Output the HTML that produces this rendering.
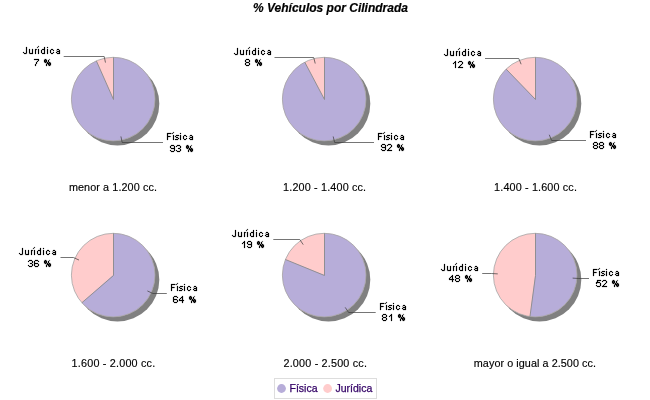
<!DOCTYPE html>
<html><head><meta charset="utf-8"><title>% Vehículos por Cilindrada</title><style>
html,body{margin:0;padding:0;background:#fff;}
body{width:650px;height:400px;overflow:hidden;position:relative;font-family:"Liberation Sans",sans-serif;}
svg{position:absolute;left:0;top:0;}
text{font-family:"Liberation Sans",sans-serif;fill:#000;}
.bm{fill:#000;stroke:#000;stroke-width:0.18px;stroke-linejoin:miter;}
.txt{opacity:0.999;}
.cat{font-size:10.8px;stroke:#000;stroke-width:0.15px;}
.title{font-size:12px;font-weight:bold;font-style:italic;stroke:#000;stroke-width:0.2px;}
.lg{font-size:10.5px;fill:#330066;stroke:#330066;stroke-width:0.25px;}
</style></head><body>
<svg width="650" height="400" viewBox="0 0 650 400">
<defs>
<filter id="idf" x="0" y="0" width="650" height="400" filterUnits="userSpaceOnUse"><feOffset dx="0" dy="0"/></filter>
<g id="g0"><path d="M3 2h1v1h-1zM3 3h1v1h-1zM3 4h1v1h-1zM3 5h1v1h-1zM3 6h1v1h-1zM0 7h1v1h-1zM3 7h1v1h-1zM1 8h2v1h-2z"/><path d="M3 8h1v1h-1z" opacity="0.6"/></g><g id="g1"><path d="M0 4h1v1h-1zM3 4h1v1h-1zM0 5h1v1h-1zM3 5h1v1h-1zM0 6h1v1h-1zM3 6h1v1h-1zM0 7h1v1h-1zM3 7h1v1h-1zM1 8h3v1h-3z"/><path d="M0 8h1v1h-1z" opacity="0.6"/></g><g id="g2"><path d="M0 4h1v1h-1zM0 5h1v1h-1zM0 6h1v1h-1zM0 7h1v1h-1zM0 8h1v1h-1z"/><path d="M1 4h1v1h-1z" opacity="0.8"/></g><g id="g3"><path d="M1 4h1v1h-1zM1 5h1v1h-1zM1 6h1v1h-1zM1 7h1v1h-1zM1 8h1v1h-1z"/><path d="M1 1h1v1h-1zM0 2h1v1h-1z" opacity="0.8"/></g><g id="g4"><path d="M3 2h1v1h-1zM3 3h1v1h-1zM1 4h3v1h-3zM0 5h1v1h-1zM3 5h1v1h-1zM0 6h1v1h-1zM3 6h1v1h-1zM0 7h1v1h-1zM3 7h1v1h-1zM1 8h3v1h-3z"/></g><g id="g5"><path d="M0 2h1v1h-1zM0 4h1v1h-1zM0 5h1v1h-1zM0 6h1v1h-1zM0 7h1v1h-1zM0 8h1v1h-1z"/></g><g id="g6"><path d="M1 4h2v1h-2zM0 5h1v1h-1zM3 5h1v1h-1zM0 6h1v1h-1zM0 7h1v1h-1zM3 7h1v1h-1zM1 8h2v1h-2z"/></g><g id="g7"><path d="M1 4h2v1h-2zM3 5h1v1h-1zM1 6h3v1h-3zM0 7h1v1h-1zM3 7h1v1h-1zM1 8h3v1h-3z"/><path d="M0 5h1v1h-1z" opacity="0.35"/></g><g id="g8"><path d="M0 2h4v1h-4zM0 3h1v1h-1zM0 4h1v1h-1zM0 5h3v1h-3zM0 6h1v1h-1zM0 7h1v1h-1zM0 8h1v1h-1z"/><path d="M3 5h1v1h-1z" opacity="0.6"/><path d="M4 2h1v1h-1z" opacity="0.35"/></g><g id="g9"><path d="M1 4h3v1h-3zM0 5h1v1h-1zM1 6h2v1h-2zM3 7h1v1h-1zM0 8h3v1h-3z"/></g><g id="g10"><path d="M3 2h1v1h-1zM2 3h2v1h-2zM1 4h1v1h-1zM3 4h1v1h-1zM3 5h1v1h-1zM3 6h1v1h-1zM3 7h1v1h-1zM3 8h1v1h-1z"/></g><g id="g11"><path d="M1 2h3v1h-3zM0 3h1v1h-1zM4 3h1v1h-1zM4 4h1v1h-1zM3 5h1v1h-1zM2 6h1v1h-1zM1 7h1v1h-1zM0 8h5v1h-5z"/></g><g id="g12"><path d="M1 2h3v1h-3zM0 3h1v1h-1zM4 3h1v1h-1zM4 4h1v1h-1zM2 5h2v1h-2zM4 6h1v1h-1zM0 7h1v1h-1zM4 7h1v1h-1zM1 8h3v1h-3z"/></g><g id="g13"><path d="M3 2h1v1h-1zM2 3h2v1h-2zM1 4h1v1h-1zM3 4h1v1h-1zM0 5h1v1h-1zM3 5h1v1h-1zM0 6h5v1h-5zM3 7h1v1h-1zM3 8h1v1h-1z"/></g><g id="g14"><path d="M1 2h4v1h-4zM1 3h1v1h-1zM0 4h4v1h-4zM0 5h1v1h-1zM4 5h1v1h-1zM4 6h1v1h-1zM0 7h1v1h-1zM4 7h1v1h-1zM1 8h3v1h-3z"/></g><g id="g15"><path d="M1 2h3v1h-3zM0 3h1v1h-1zM4 3h1v1h-1zM0 4h1v1h-1zM0 5h4v1h-4zM0 6h1v1h-1zM4 6h1v1h-1zM0 7h1v1h-1zM4 7h1v1h-1zM1 8h3v1h-3z"/></g><g id="g16"><path d="M0 2h5v1h-5zM4 3h1v1h-1zM3 4h1v1h-1zM2 5h1v1h-1zM2 6h1v1h-1zM1 7h1v1h-1zM1 8h1v1h-1z"/></g><g id="g17"><path d="M1 2h3v1h-3zM0 3h1v1h-1zM4 3h1v1h-1zM0 4h1v1h-1zM4 4h1v1h-1zM1 5h3v1h-3zM0 6h1v1h-1zM4 6h1v1h-1zM0 7h1v1h-1zM4 7h1v1h-1zM1 8h3v1h-3z"/></g><g id="g18"><path d="M1 2h3v1h-3zM0 3h1v1h-1zM4 3h1v1h-1zM0 4h1v1h-1zM4 4h1v1h-1zM1 5h4v1h-4zM4 6h1v1h-1zM0 7h1v1h-1zM4 7h1v1h-1zM1 8h3v1h-3z"/></g><g id="g19"><path d="M1 2h1v1h-1zM0 3h1v1h-1zM2 3h1v1h-1zM4 3h1v1h-1zM0 4h1v1h-1zM2 4h1v1h-1zM4 4h1v1h-1zM1 5h1v1h-1zM3 5h1v1h-1zM5 5h1v1h-1zM3 6h2v1h-2zM6 6h1v1h-1zM2 7h1v1h-1zM4 7h1v1h-1zM6 7h1v1h-1zM2 8h1v1h-1zM5 8h1v1h-1z"/><path d="M1 3h1v1h-1zM1 4h1v1h-1zM5 6h1v1h-1zM5 7h1v1h-1z" opacity="0.8"/><path d="M5 2h1v1h-1z" opacity="0.6"/><path d="M0 2h1v1h-1zM2 2h1v1h-1zM0 5h1v1h-1zM2 5h1v1h-1zM4 5h1v1h-1zM6 5h1v1h-1zM2 6h1v1h-1zM4 8h1v1h-1zM6 8h1v1h-1z" opacity="0.35"/></g>
</defs>
<circle cx="117.5" cy="103.69999999999999" r="41.8" fill="#808080"/>
<circle cx="113.2" cy="99.1" r="41.8" fill="#ffcccc"/>
<path d="M113.2,99.1 L113.2,57.3 A41.8,41.8 0 1 1 96.36,60.84 Z" fill="#b7add9"/>
<circle cx="113.2" cy="99.1" r="41.8" fill="none" stroke="#a4a4a4" stroke-width="0.8"/>
<path d="M113.5,57.3 L113.5,99.5 L96.36,60.84" fill="none" stroke="#8a8a8a" stroke-width="0.9"/>
<path d="M105.48,62.57 L104.20,56.50 L63.70,56.50" fill="none" stroke="#3a3a3a" stroke-width="0.7"/>
<g class="bm" role="img" aria-label="Jurídica 7 %"><title>Jurídica 7 %</title>
<use href="#g0" x="23" y="45"/>
<use href="#g1" x="29" y="45"/>
<use href="#g2" x="35" y="45"/>
<use href="#g3" x="37" y="45"/>
<use href="#g4" x="41" y="45"/>
<use href="#g5" x="47" y="45"/>
<use href="#g6" x="50" y="45"/>
<use href="#g7" x="56" y="45"/>
<use href="#g16" x="34" y="57"/>
<use href="#g19" x="44" y="57"/>
</g>
<path d="M120.92,136.43 L122.20,142.50 L163.00,142.50" fill="none" stroke="#3a3a3a" stroke-width="0.7"/>
<g class="bm" role="img" aria-label="Física 93 %"><title>Física 93 %</title>
<use href="#g8" x="167" y="131"/>
<use href="#g3" x="172" y="131"/>
<use href="#g9" x="175" y="131"/>
<use href="#g5" x="180" y="131"/>
<use href="#g6" x="183" y="131"/>
<use href="#g7" x="189" y="131"/>
<use href="#g18" x="170" y="143"/>
<use href="#g12" x="176" y="143"/>
<use href="#g19" x="186" y="143"/>
</g>
<circle cx="328.5" cy="103.69999999999999" r="41.8" fill="#808080"/>
<circle cx="324.2" cy="99.1" r="41.8" fill="#ffcccc"/>
<path d="M324.2,99.1 L324.2,57.3 A41.8,41.8 0 1 1 304.76,62.10 Z" fill="#b7add9"/>
<circle cx="324.2" cy="99.1" r="41.8" fill="none" stroke="#a4a4a4" stroke-width="0.8"/>
<path d="M324.5,57.3 L324.5,99.5 L304.76,62.10" fill="none" stroke="#8a8a8a" stroke-width="0.9"/>
<path d="M315.22,63.52 L313.73,57.50 L274.50,57.50" fill="none" stroke="#3a3a3a" stroke-width="0.7"/>
<g class="bm" role="img" aria-label="Jurídica 8 %"><title>Jurídica 8 %</title>
<use href="#g0" x="234" y="46"/>
<use href="#g1" x="240" y="46"/>
<use href="#g2" x="246" y="46"/>
<use href="#g3" x="248" y="46"/>
<use href="#g4" x="252" y="46"/>
<use href="#g5" x="258" y="46"/>
<use href="#g6" x="261" y="46"/>
<use href="#g7" x="267" y="46"/>
<use href="#g17" x="245" y="57"/>
<use href="#g19" x="255" y="57"/>
</g>
<path d="M333.18,136.48 L334.67,142.50 L374.00,142.50" fill="none" stroke="#3a3a3a" stroke-width="0.7"/>
<g class="bm" role="img" aria-label="Física 92 %"><title>Física 92 %</title>
<use href="#g8" x="378" y="131"/>
<use href="#g3" x="383" y="131"/>
<use href="#g9" x="386" y="131"/>
<use href="#g5" x="391" y="131"/>
<use href="#g6" x="394" y="131"/>
<use href="#g7" x="400" y="131"/>
<use href="#g18" x="381" y="142"/>
<use href="#g11" x="387" y="142"/>
<use href="#g19" x="397" y="142"/>
</g>
<circle cx="539.5" cy="103.69999999999999" r="41.8" fill="#808080"/>
<circle cx="535.2" cy="99.1" r="41.8" fill="#ffcccc"/>
<path d="M535.2,99.1 L535.2,57.3 A41.8,41.8 0 1 1 506.11,69.08 Z" fill="#b7add9"/>
<circle cx="535.2" cy="99.1" r="41.8" fill="none" stroke="#a4a4a4" stroke-width="0.8"/>
<path d="M535.5,57.3 L535.5,99.5 L506.11,69.08" fill="none" stroke="#8a8a8a" stroke-width="0.9"/>
<path d="M521.12,64.25 L518.79,58.50 L485.00,58.50" fill="none" stroke="#3a3a3a" stroke-width="0.7"/>
<g class="bm" role="img" aria-label="Jurídica 12 %"><title>Jurídica 12 %</title>
<use href="#g0" x="444" y="47"/>
<use href="#g1" x="450" y="47"/>
<use href="#g2" x="456" y="47"/>
<use href="#g3" x="458" y="47"/>
<use href="#g4" x="462" y="47"/>
<use href="#g5" x="468" y="47"/>
<use href="#g6" x="471" y="47"/>
<use href="#g7" x="477" y="47"/>
<use href="#g10" x="452" y="59"/>
<use href="#g11" x="458" y="59"/>
<use href="#g19" x="468" y="59"/>
</g>
<path d="M549.28,134.75 L551.61,140.50 L586.00,140.50" fill="none" stroke="#3a3a3a" stroke-width="0.7"/>
<g class="bm" role="img" aria-label="Física 88 %"><title>Física 88 %</title>
<use href="#g8" x="590" y="129"/>
<use href="#g3" x="595" y="129"/>
<use href="#g9" x="598" y="129"/>
<use href="#g5" x="603" y="129"/>
<use href="#g6" x="606" y="129"/>
<use href="#g7" x="612" y="129"/>
<use href="#g17" x="593" y="140"/>
<use href="#g17" x="599" y="140"/>
<use href="#g19" x="609" y="140"/>
</g>
<circle cx="117.5" cy="279.70000000000005" r="41.8" fill="#808080"/>
<circle cx="113.2" cy="275.1" r="41.8" fill="#ffcccc"/>
<path d="M113.2,275.1 L113.2,233.3 A41.8,41.8 0 1 1 81.85,302.74 Z" fill="#b7add9"/>
<circle cx="113.2" cy="275.1" r="41.8" fill="none" stroke="#a4a4a4" stroke-width="0.8"/>
<path d="M113.5,233.3 L113.5,275.5 L81.85,302.74" fill="none" stroke="#8a8a8a" stroke-width="0.9"/>
<path d="M79.02,260.05 L73.37,257.50 L60.50,257.50" fill="none" stroke="#3a3a3a" stroke-width="0.7"/>
<g class="bm" role="img" aria-label="Jurídica 36 %"><title>Jurídica 36 %</title>
<use href="#g0" x="19" y="246"/>
<use href="#g1" x="25" y="246"/>
<use href="#g2" x="31" y="246"/>
<use href="#g3" x="33" y="246"/>
<use href="#g4" x="37" y="246"/>
<use href="#g5" x="43" y="246"/>
<use href="#g6" x="46" y="246"/>
<use href="#g7" x="52" y="246"/>
<use href="#g12" x="28" y="258"/>
<use href="#g15" x="34" y="258"/>
<use href="#g19" x="44" y="258"/>
</g>
<path d="M147.38,290.95 L153.03,293.50 L166.80,293.50" fill="none" stroke="#3a3a3a" stroke-width="0.7"/>
<g class="bm" role="img" aria-label="Física 64 %"><title>Física 64 %</title>
<use href="#g8" x="171" y="282"/>
<use href="#g3" x="176" y="282"/>
<use href="#g9" x="179" y="282"/>
<use href="#g5" x="184" y="282"/>
<use href="#g6" x="187" y="282"/>
<use href="#g7" x="193" y="282"/>
<use href="#g15" x="173" y="294"/>
<use href="#g13" x="179" y="294"/>
<use href="#g19" x="189" y="294"/>
</g>
<circle cx="328.5" cy="279.70000000000005" r="41.8" fill="#808080"/>
<circle cx="324.2" cy="275.1" r="41.8" fill="#ffcccc"/>
<path d="M324.2,275.1 L324.2,233.3 A41.8,41.8 0 1 1 285.43,259.47 Z" fill="#b7add9"/>
<circle cx="324.2" cy="275.1" r="41.8" fill="none" stroke="#a4a4a4" stroke-width="0.8"/>
<path d="M324.5,233.3 L324.5,275.5 L285.43,259.47" fill="none" stroke="#8a8a8a" stroke-width="0.9"/>
<path d="M303.22,244.64 L299.75,239.50 L273.30,239.50" fill="none" stroke="#3a3a3a" stroke-width="0.7"/>
<g class="bm" role="img" aria-label="Jurídica 19 %"><title>Jurídica 19 %</title>
<use href="#g0" x="232" y="228"/>
<use href="#g1" x="238" y="228"/>
<use href="#g2" x="244" y="228"/>
<use href="#g3" x="246" y="228"/>
<use href="#g4" x="250" y="228"/>
<use href="#g5" x="256" y="228"/>
<use href="#g6" x="259" y="228"/>
<use href="#g7" x="265" y="228"/>
<use href="#g10" x="241" y="239"/>
<use href="#g18" x="247" y="239"/>
<use href="#g19" x="257" y="239"/>
</g>
<path d="M345.18,307.36 L348.65,312.50 L375.70,312.50" fill="none" stroke="#3a3a3a" stroke-width="0.7"/>
<g class="bm" role="img" aria-label="Física 81 %"><title>Física 81 %</title>
<use href="#g8" x="380" y="301"/>
<use href="#g3" x="385" y="301"/>
<use href="#g9" x="388" y="301"/>
<use href="#g5" x="393" y="301"/>
<use href="#g6" x="396" y="301"/>
<use href="#g7" x="402" y="301"/>
<use href="#g17" x="382" y="312"/>
<use href="#g10" x="388" y="312"/>
<use href="#g19" x="398" y="312"/>
</g>
<circle cx="539.5" cy="279.70000000000005" r="41.8" fill="#808080"/>
<circle cx="535.2" cy="275.1" r="41.8" fill="#ffcccc"/>
<path d="M535.2,275.1 L535.2,233.3 A41.8,41.8 0 1 1 529.96,316.57 Z" fill="#b7add9"/>
<circle cx="535.2" cy="275.1" r="41.8" fill="none" stroke="#a4a4a4" stroke-width="0.8"/>
<path d="M535.5,233.3 L535.5,275.5 L529.96,316.57" fill="none" stroke="#8a8a8a" stroke-width="0.9"/>
<path d="M497.77,273.89 L491.59,273.50 L482.20,273.50" fill="none" stroke="#3a3a3a" stroke-width="0.7"/>
<g class="bm" role="img" aria-label="Jurídica 48 %"><title>Jurídica 48 %</title>
<use href="#g0" x="441" y="262"/>
<use href="#g1" x="447" y="262"/>
<use href="#g2" x="453" y="262"/>
<use href="#g3" x="455" y="262"/>
<use href="#g4" x="459" y="262"/>
<use href="#g5" x="465" y="262"/>
<use href="#g6" x="468" y="262"/>
<use href="#g7" x="474" y="262"/>
<use href="#g13" x="449" y="273"/>
<use href="#g17" x="455" y="273"/>
<use href="#g19" x="465" y="273"/>
</g>
<path d="M572.63,278.11 L578.81,278.50 L589.00,278.50" fill="none" stroke="#3a3a3a" stroke-width="0.7"/>
<g class="bm" role="img" aria-label="Física 52 %"><title>Física 52 %</title>
<use href="#g8" x="593" y="267"/>
<use href="#g3" x="598" y="267"/>
<use href="#g9" x="601" y="267"/>
<use href="#g5" x="606" y="267"/>
<use href="#g6" x="609" y="267"/>
<use href="#g7" x="615" y="267"/>
<use href="#g14" x="596" y="278"/>
<use href="#g11" x="602" y="278"/>
<use href="#g19" x="612" y="278"/>
</g>
<rect x="274.5" y="378.5" width="102" height="20" fill="#fff" stroke="#ddd" stroke-width="1"/>
<circle cx="281.5" cy="388.5" r="4.4" fill="#b7add9"/>
<circle cx="327.6" cy="388.5" r="4.4" fill="#ffcccc"/>
<g filter="url(#idf)"><text class="cat" x="68.9" y="191.10" textLength="88.0" lengthAdjust="spacing">menor a 1.200 cc.</text>
<text class="cat" x="283.1" y="191.10" textLength="83.0" lengthAdjust="spacing">1.200 - 1.400 cc.</text>
<text class="cat" x="494.1" y="191.10" textLength="82.8" lengthAdjust="spacing">1.400 - 1.600 cc.</text>
<text class="cat" x="71.6" y="367.10" textLength="83.6" lengthAdjust="spacing">1.600 - 2.000 cc.</text>
<text class="cat" x="283.5" y="367.10" textLength="83.4" lengthAdjust="spacing">2.000 - 2.500 cc.</text>
<text class="cat" x="473.8" y="367.10" textLength="122.2" lengthAdjust="spacing">mayor o igual a 2.500 cc.</text>
<text class="title" x="330.5" y="12" text-anchor="middle">% Vehículos por Cilindrada</text>
<text class="lg" x="289.5" y="392">Física</text>
<text class="lg" x="335.5" y="392">Jurídica</text></g>
</svg>
</body></html>
